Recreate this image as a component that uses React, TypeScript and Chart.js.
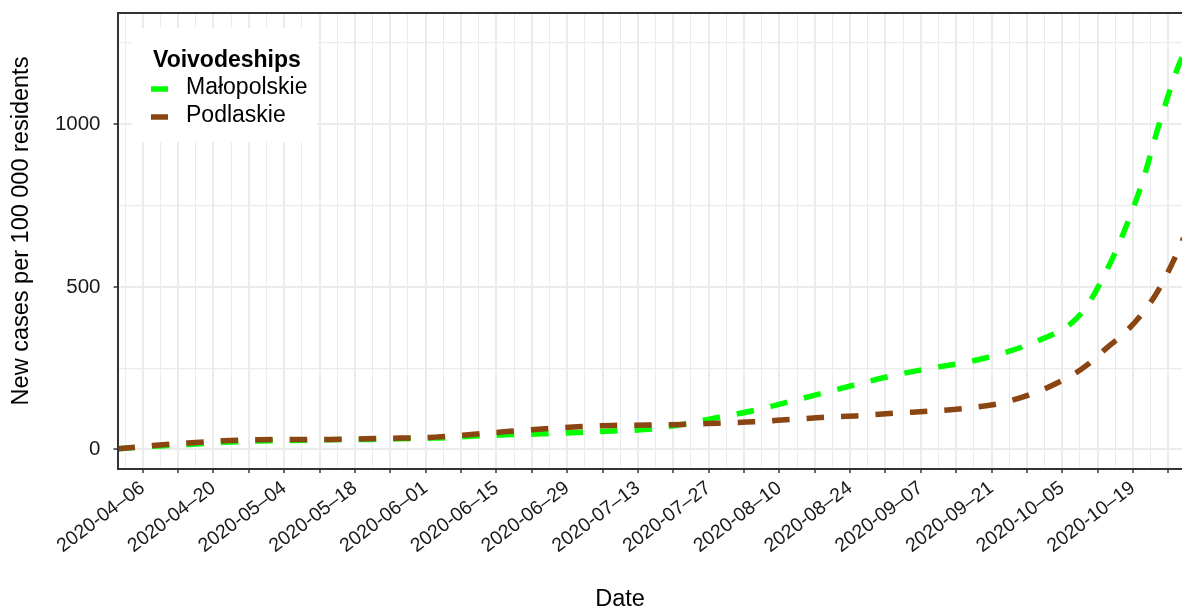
import React, { useEffect, useRef } from "react";
import { Chart, registerables } from "chart.js";

Chart.register(...registerables);

// ---------------- data ----------------
const dates = [
  "2020-04-01", "2020-04-08", "2020-04-15", "2020-04-22", "2020-04-29",
  "2020-05-06", "2020-05-13", "2020-05-20", "2020-05-27", "2020-06-03",
  "2020-06-10", "2020-06-17", "2020-06-24", "2020-07-01", "2020-07-08",
  "2020-07-15", "2020-07-22", "2020-07-29", "2020-08-05", "2020-08-12",
  "2020-08-19", "2020-08-26", "2020-09-02", "2020-09-09", "2020-09-16",
  "2020-09-23", "2020-09-30", "2020-10-07", "2020-10-10", "2020-10-14",
  "2020-10-17", "2020-10-21", "2020-10-24", "2020-10-28", "2020-10-29",
];
const malopolskie = [
  2, 10, 15, 22, 26, 28, 30, 31, 33, 35,
  41, 45, 48, 52, 57, 62, 78, 99, 120, 147,
  175, 203, 229, 250, 268, 295, 333, 391, 444, 557,
  661, 829, 991, 1180, 1215,
];
const podlaskie = [
  2, 12, 20, 27, 30, 31, 31, 33, 35, 38,
  46, 55, 63, 70, 74, 75, 77, 81, 85, 92,
  99, 104, 112, 118, 127, 143, 177, 229, 261, 315,
  353, 421, 489, 613, 650,
];
const seriesNames = ["Małopolskie", "Podlaskie"];
const seriesColors = ["#00FF00", "#8B4513"];
const xTickLabels = [
  "2020-04-06", "2020-04-20", "2020-05-04", "2020-05-18", "2020-06-01",
  "2020-06-15", "2020-06-29", "2020-07-13", "2020-07-27", "2020-08-10",
  "2020-08-24", "2020-09-07", "2020-09-21", "2020-10-05", "2020-10-19",
];
const yTickValues = [0, 500, 1000];
const yMinorValues = [250, 750, 1250];
const legendTitle = "Voivodeships";
const xTitle = "Date";
const yTitle = "New cases per 100 000 residents";

// ---------------- helpers ----------------
const ORIGIN = Date.UTC(2020, 3, 6);
const toDay = (s: string) => {
  const [y, m, d] = s.split("-").map(Number);
  return (Date.UTC(y, m - 1, d) - ORIGIN) / 86400000;
};
const fmt = (s: string) => s.replace(/-(\d\d)$/, "\u2013$1");

const X_MIN = -4.9;
const X_MAX = 205.7;
const Y_MIN = -60;
const Y_MAX = 1342;

const FONT = "'Liberation Sans', Arial, Helvetica, sans-serif";

const xLabelMap = new Map<number, string>();
xTickLabels.forEach((s) => xLabelMap.set(toDay(s), fmt(s)));

const xTickValues: number[] = [];
for (let k = -1; k * 3.5 <= X_MAX; k++) xTickValues.push(k * 3.5);
const isMajorX = (v: number) => Math.abs(v / 7 - Math.round(v / 7)) < 1e-6;

const yAll = [...yTickValues, ...yMinorValues].sort((a, b) => a - b);
const isMajorY = (v: number) => yTickValues.includes(v);

const overlayPlugin = {
  id: "ggOverlay",
  afterDraw(chart: any) {
    const ctx = chart.ctx as CanvasRenderingContext2D;
    const { left, top, right, bottom } = chart.chartArea;
    ctx.save();
    // panel border
    ctx.strokeStyle = "#333333";
    ctx.lineWidth = 2;
    ctx.strokeRect(left, top, right - left + 20, bottom - top);

    // legend
    ctx.fillStyle = "#ffffff";
    ctx.fillRect(132, 28, 185, 114);
    ctx.fillStyle = "#000000";
    ctx.textBaseline = "middle";
    ctx.textAlign = "left";
    ctx.font = `bold 23px ${FONT}`;
    ctx.fillText(legendTitle, 153, 61);
    ctx.font = `23px ${FONT}`;
    const ys = [88, 116];
    seriesNames.forEach((name, i) => {
      ctx.strokeStyle = seriesColors[i];
      ctx.lineWidth = 5.5;
      ctx.setLineDash([]);
      ctx.beginPath();
      ctx.moveTo(151, ys[i] + 1);
      ctx.lineTo(168, ys[i] + 1);
      ctx.stroke();
      ctx.fillStyle = "#000000";
      ctx.fillText(name, 186, ys[i]);
    });

    // axis titles
    ctx.font = `23.5px ${FONT}`;
    ctx.textAlign = "center";
    ctx.fillStyle = "#000000";
    ctx.fillText(xTitle, 620, 600);
    ctx.translate(22, 231);
    ctx.rotate(-Math.PI / 2);
    ctx.fillText(yTitle, 0, 0);
    ctx.restore();
  },
};

export default function App() {
  const ref = useRef<HTMLCanvasElement>(null);
  useEffect(() => {
    const datasets = [malopolskie, podlaskie].map((vals, i) => ({
      label: seriesNames[i],
      data: dates.map((d, j) => ({ x: toDay(d), y: vals[j] })),
      borderColor: seriesColors[i],
      backgroundColor: seriesColors[i],
      borderWidth: 5.5,
      borderDash: [17.5, 17],
      borderCapStyle: "butt" as const,
      pointRadius: 0,
      fill: false,
      cubicInterpolationMode: "monotone" as const,
      clip: 0,
      order: i === 0 ? 2 : 1,
    }));
    const chart = new Chart(ref.current!, {
      type: "line",
      data: { datasets },
      plugins: [overlayPlugin],
      options: {
        animation: false,
        responsive: false,
        devicePixelRatio: 1,
        layout: { padding: { top: 13, left: 0, right: 0, bottom: 0 } },
        plugins: { legend: { display: false }, tooltip: { enabled: false } },
        scales: {
          x: {
            type: "linear",
            min: X_MIN,
            max: X_MAX,
            border: { display: false },
            afterBuildTicks: (scale: any) => {
              scale.ticks = xTickValues.map((v) => ({ value: v }));
            },
            afterFit: (scale: any) => {
              scale.height = 140;
              scale.paddingLeft = 0;
              scale.paddingRight = 0;
            },
            grid: {
              color: "#EBEBEB",
              lineWidth: (c: any) => (c.tick && isMajorX(c.tick.value) ? 2 : 1),
              tickColor: (c: any) => (c.tick && isMajorX(c.tick.value) ? "#333333" : "rgba(0,0,0,0)"),
              tickWidth: 1.5,
              tickLength: 4,
              drawTicks: true,
            },
            ticks: {
              autoSkip: false,
              minRotation: 37,
              maxRotation: 37,
              padding: 3.5,
              color: "#1a1a1a",
              font: { family: FONT, size: 19.5 },
              callback: (v: any) => xLabelMap.get(Number(v)) ?? "",
            },
          },
          y: {
            type: "linear",
            min: Y_MIN,
            max: Y_MAX,
            border: { display: false },
            afterBuildTicks: (scale: any) => {
              scale.ticks = yAll.map((v) => ({ value: v }));
            },
            afterFit: (scale: any) => {
              scale.width = 118;
              scale.paddingTop = 0;
              scale.paddingBottom = 0;
            },
            grid: {
              color: "#EBEBEB",
              lineWidth: (c: any) => (c.tick && isMajorY(c.tick.value) ? 2 : 1.2),
              tickColor: (c: any) => (c.tick && isMajorY(c.tick.value) ? "#333333" : "rgba(0,0,0,0)"),
              tickWidth: 1.5,
              tickLength: 4.5,
              drawTicks: true,
            },
            ticks: {
              padding: 13,
              color: "#1a1a1a",
              font: { family: FONT, size: 20.5 },
              callback: (v: any) => (isMajorY(Number(v)) ? String(v) : ""),
            },
          },
        },
      },
    } as any);
    return () => chart.destroy();
  }, []);
  return (
    <div style={{ position: "fixed", left: 0, top: 0, width: 1182, height: 609, background: "#ffffff" }}>
      <canvas ref={ref} width={1182} height={609} style={{ display: "block", width: 1182, height: 609 }} />
    </div>
  );
}
